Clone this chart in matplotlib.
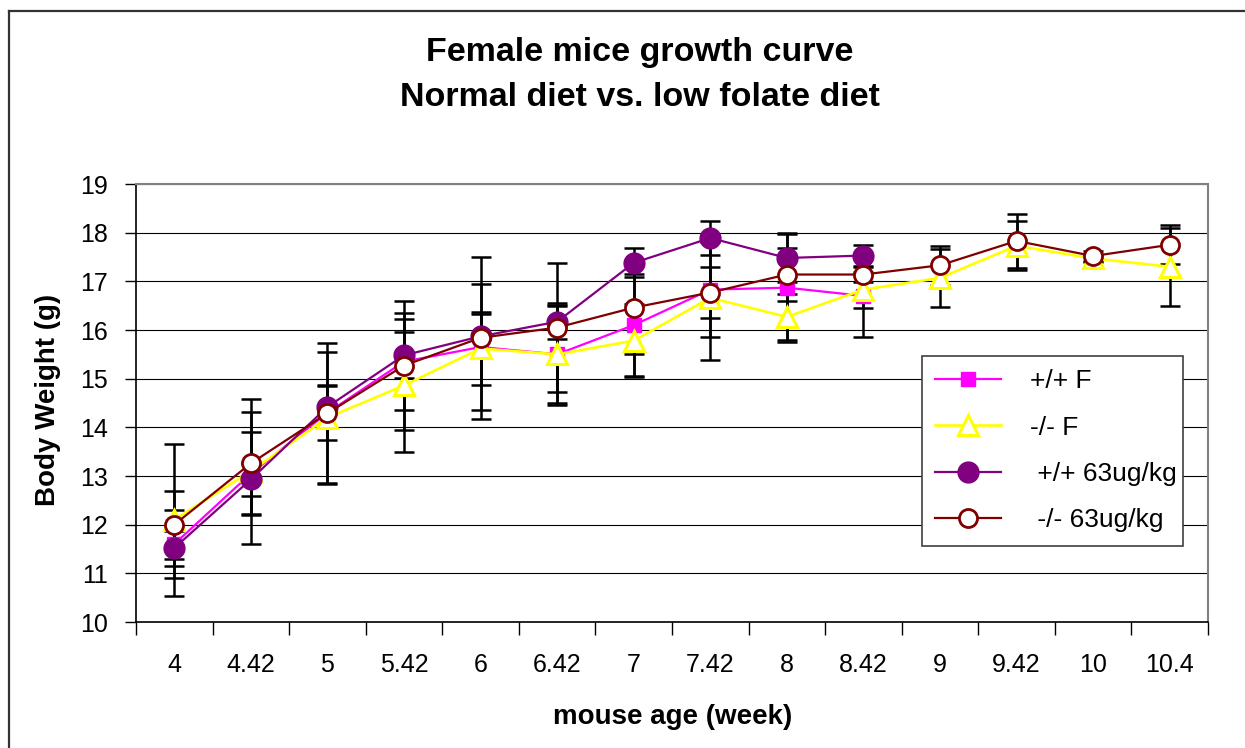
import numpy as np
import matplotlib
matplotlib.use("Agg")
import matplotlib.pyplot as plt
from matplotlib.lines import Line2D

plt.rcParams["font.family"] = ["Liberation Sans", "DejaVu Sans"]

# mouse age in weeks (category labels on the x axis)
ages = ["4", "4.42", "5", "5.42", "6", "6.42", "7", "7.42",
        "8", "8.42", "9", "9.42", "10", "10.4"]

# mean body weight (g) and error (g) per group
wt_wt_F = [11.6, 13.05, 14.3, 15.35, 15.65, 15.5, 16.1, 16.83, 16.87, 16.7]
err_wt_F = [0.7, 0.86, 0.55, 1.0, 1.3, 1.0, 1.05, 0.97, 1.12, 0.84]

wt_ko_F = [12.1, 13.1, 14.2, 14.86, 15.62, 15.5, 15.78, 16.66, 16.27, 16.83,
           17.07, 17.73, 17.47, 17.3]
err_ko_F = [1.56, 1.49, 1.35, 1.36, 0.74, 1.05, 0.75, 1.27, 0.48, 0.37,
            0.6, 0.5, 0.08, 0.8]

wt_wt_63 = [11.52, 12.93, 14.42, 15.48, 15.87, 16.17, 17.38, 17.89, 17.48, 17.53]
err_wt_63 = [0.36, 0.34, 0.44, 0.47, 0.45, 0.35, 0.3, 0.35, 0.5, 0.22]

wt_ko_63 = [12.0, 13.26, 14.29, 15.27, 15.84, 16.05, 16.46, 16.77, 17.14, 17.14,
            17.33, 17.83, 17.52, 17.75]
err_ko_63 = [0.7, 1.05, 1.45, 1.33, 1.66, 1.33, 0.96, 0.53, 0.55, 0.15,
             0.4, 0.55, 0.1, 0.4]

series = [
    ("+/+ F", wt_wt_F, err_wt_F,
     dict(color="#FF00FF", lw=1.6, marker="s", ms=10, mfc="#FF00FF", mec="#FF00FF", mew=1)),
    ("-/- F", wt_ko_F, err_ko_F,
     dict(color="#FFFF00", lw=1.9, marker="^", ms=14.5, mfc="white", mec="#FFFF00", mew=2.2)),
    (" +/+ 63ug/kg", wt_wt_63, err_wt_63,
     dict(color="#800080", lw=1.6, marker="o", ms=15, mfc="#800080", mec="#800080", mew=1)),
    (" -/- 63ug/kg", wt_ko_63, err_ko_63,
     dict(color="#800000", lw=1.6, marker="o", ms=13, mfc="white", mec="#800000", mew=2)),
]

W, H = 1245, 748
fig = plt.figure(figsize=(W / 100, H / 100), dpi=100)
fig.patch.set_facecolor("white")

# outer chart frame (left and top edges)
fig.add_artist(Line2D([9 / W, 9 / W], [0, 1 - 11 / H], color="#333333", lw=1.6,
                      transform=fig.transFigure))
fig.add_artist(Line2D([9 / W, 1], [1 - 11 / H, 1 - 11 / H], color="#333333", lw=1.6,
                      transform=fig.transFigure))

left, right, top, bottom = 136, 1208, 184, 622
ax = fig.add_axes([left / W, 1 - bottom / H, (right - left) / W, (bottom - top) / H])

x = np.arange(len(ages))

# error bars sit beneath the markers
for name, vals, err, style in series:
    n = len(vals)
    ax.errorbar(x[:n], vals, yerr=err, fmt="none", ecolor="black",
                elinewidth=1.8, capsize=7.5, capthick=1.8, zorder=3)

handles = []
for i, (name, vals, err, style) in enumerate(series):
    n = len(vals)
    (ln,) = ax.plot(x[:n], vals, label=name, zorder=4 + i, **style)
    handles.append(ln)

ax.set_xlim(-0.5, len(ages) - 0.5)
ax.set_ylim(10, 19)
ax.set_yticks(np.arange(10, 20, 1))
ax.yaxis.grid(True, color="#000000", lw=0.8)
ax.set_axisbelow(True)

ax.set_xticks(x)
ax.set_xticklabels(ages)
ax.set_xticks(np.arange(-0.5, len(ages), 1), minor=True)
ax.tick_params(axis="x", which="major", length=0, pad=22, labelsize=18)
ax.tick_params(axis="x", which="minor", length=9, width=1, direction="out")
ax.tick_params(axis="y", length=8, width=1, direction="out", pad=12, labelsize=18)

for side in ("left", "bottom"):
    ax.spines[side].set_color("black")
    ax.spines[side].set_linewidth(1.2)
for side in ("top", "right"):
    ax.spines[side].set_color("#808080")
    ax.spines[side].set_linewidth(1.5)

fig.text(640 / W, 1 - 52 / H, "Female mice growth curve", ha="center", va="center",
         fontsize=24.5, fontweight="bold")
fig.text(640 / W, 1 - 97 / H, "Normal diet vs. low folate diet", ha="center",
         va="center", fontsize=24.5, fontweight="bold")
fig.text(48 / W, 1 - 400 / H, "Body Weight (g)", rotation=90, ha="center",
         va="center", fontsize=20, fontweight="bold")
fig.text(673 / W, 1 - 717 / H, "mouse age (week)", ha="center", va="center",
         fontsize=20, fontweight="bold")

leg = ax.legend(handles=handles, loc="upper left",
                bbox_to_anchor=(922 / W, 1 - 538 / H, 261 / W, 182 / H),
                bbox_transform=fig.transFigure, mode="expand",
                fontsize=19, frameon=True, fancybox=False, framealpha=1,
                edgecolor="#404040", borderpad=0.5, labelspacing=0.85,
                handlelength=2.5, handletextpad=1.1, borderaxespad=0)
leg.get_frame().set_linewidth(1.2)
leg.set_zorder(10)

fig.savefig("out.png", dpi=100, facecolor="white")
